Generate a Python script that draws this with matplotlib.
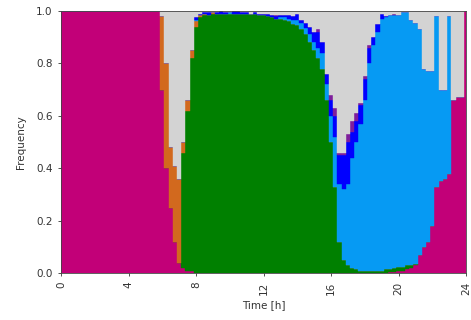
import numpy as np
import matplotlib
matplotlib.use('Agg')
import matplotlib.pyplot as plt

# Time of day for each 15 minute bar (hours), one extra bar at 24:00.
times = np.arange(97) * 0.25

# Share of each activity per time bar.
sleep = [1.0] * 24 + [
    0.70, 0.40, 0.25, 0.12, 0.04, 0.02, 0.01, 0.01, 0, 0,
    0, 0, 0, 0, 0, 0, 0, 0, 0, 0,
    0, 0, 0, 0, 0, 0, 0, 0, 0, 0,
    0, 0, 0, 0, 0, 0, 0, 0, 0, 0,
    0, 0, 0, 0, 0, 0, 0, 0, 0, 0,
    0, 0, 0, 0, 0.005, 0.005, 0.01, 0.01, 0.015, 0.02,
    0.03, 0.07, 0.10, 0.12, 0.18, 0.33, 0.35, 0.36, 0.38, 0.66,
    0.67, 0.67, 1.0]
work = [0] * 24 + [
    0, 0, 0, 0, 0, 0.44, 0.61, 0.81, 0.94, 0.975,
    0.985, 0.985, 0.99, 0.99, 0.99, 0.99, 0.99, 0.99, 0.99, 0.99,
    0.99, 0.99, 0.99, 0.985, 0.985, 0.98, 0.975, 0.97, 0.97, 0.965,
    0.96, 0.95, 0.945, 0.93, 0.91, 0.88, 0.85, 0.82, 0.78, 0.66,
    0.50, 0.33, 0.12, 0.05, 0.03, 0.02, 0.015, 0.01, 0.01, 0.01,
    0.01, 0.01, 0.01, 0.015, 0.01, 0.015, 0.015, 0.015, 0.015, 0.01,
    0.005, 0, 0, 0, 0, 0, 0, 0, 0, 0,
    0, 0, 0]
commute = [0] * 24 + [
    0.28, 0.40, 0.23, 0.29, 0.32, 0.04, 0.04, 0.03, 0.02, 0.01,
    0.005, 0, 0.005, 0, 0, 0, 0, 0, 0, 0,
    0, 0, 0, 0, 0, 0, 0, 0, 0, 0,
    0, 0, 0, 0, 0, 0, 0, 0, 0, 0,
    0, 0, 0, 0, 0, 0, 0, 0, 0, 0,
    0, 0, 0, 0, 0, 0, 0, 0, 0, 0,
    0, 0, 0, 0, 0, 0, 0, 0, 0, 0,
    0, 0, 0]
home = [0] * 24 + [
    0, 0, 0, 0, 0, 0, 0, 0, 0.005, 0,
    0, 0, 0, 0, 0, 0, 0.005, 0, 0, 0,
    0, 0, 0, 0, 0, 0, 0, 0, 0.005, 0.01,
    0.01, 0.015, 0.02, 0.025, 0.025, 0.03, 0.03, 0.04, 0.06, 0.06,
    0.10, 0.19, 0.22, 0.27, 0.31, 0.42, 0.485, 0.56, 0.65, 0.79,
    0.86, 0.91, 0.96, 0.96, 0.97, 0.965, 0.96, 0.97, 0.965, 0.935,
    0.92, 0.86, 0.68, 0.65, 0.59, 0.65, 0.35, 0.34, 0.60, 0,
    0, 0, 0]
leisure = [0] * 24 + [
    0, 0, 0, 0, 0, 0, 0, 0, 0.01, 0.005,
    0.005, 0.01, 0, 0.005, 0.01, 0.005, 0, 0.01, 0.01, 0.005,
    0.005, 0, 0.005, 0.005, 0.005, 0.01, 0.01, 0.01, 0.01, 0.01,
    0.015, 0.015, 0.025, 0.01, 0.02, 0.03, 0.04, 0.06, 0.04, 0.04,
    0.06, 0.08, 0.11, 0.13, 0.16, 0.10, 0.08, 0.07, 0.08, 0.06,
    0.03, 0.03, 0.02, 0.005, 0, 0, 0, 0, 0, 0,
    0, 0, 0, 0, 0, 0, 0, 0, 0, 0,
    0, 0, 0]
errands = [0] * 24 + [
    0, 0, 0, 0, 0, 0, 0, 0, 0, 0,
    0, 0, 0, 0, 0, 0, 0, 0, 0, 0,
    0, 0, 0, 0, 0, 0, 0, 0.005, 0, 0,
    0, 0, 0, 0, 0, 0, 0, 0.01, 0, 0,
    0.02, 0.03, 0.01, 0.01, 0.03, 0.04, 0.03, 0.01, 0.01, 0.01,
    0, 0, 0, 0, 0, 0.005, 0, 0, 0, 0,
    0, 0, 0, 0, 0, 0, 0, 0, 0, 0,
    0, 0, 0]

series = [sleep, work, commute, home, leisure, errands]
colors = ['#C20078', '#008000', '#D2691E', '#069AF3', '#0000FF', '#7E1E9C']

# Remaining share (unknown) fills each bar up to one.
unknown = 1.0 - np.sum(np.array(series), axis=0)
series.append(list(np.clip(unknown, 0, None)))
colors.append('#D3D3D3')

fig = plt.figure(figsize=(4.71, 3.20), dpi=100)
ax = fig.add_axes([0.1295, 0.146, 0.86, 0.82])

bottom = np.zeros(len(times))
for values, color in zip(series, colors):
  ax.bar(times, values, width=0.25, bottom=bottom, color=color,
         edgecolor=color, linewidth=0.3)
  bottom = bottom + np.array(values)

ax.set_xlim(0, 24)
ax.set_ylim(0, 1.0)
ax.set_xticks([0, 4, 8, 12, 16, 20, 24])
ax.set_xticklabels(['0', '4', '8', '12', '16', '20', '24'], rotation=90)
ax.set_yticks([0.0, 0.2, 0.4, 0.6, 0.8, 1.0])
ax.set_yticklabels(['0.0', '0.2', '0.4', '0.6', '0.8', '1.0'])
ax.tick_params(labelsize=7.5, length=2.5, width=0.6, colors='#333333')
for spine in ax.spines.values():
  spine.set_linewidth(0.6)
  spine.set_color('#444444')

ax.set_xlabel('Time [h]', fontsize=7.5, color='#333333', labelpad=4)
ax.set_ylabel('Frequency', fontsize=7.5, color='#333333', labelpad=7)

fig.savefig('out.png', dpi=100)
